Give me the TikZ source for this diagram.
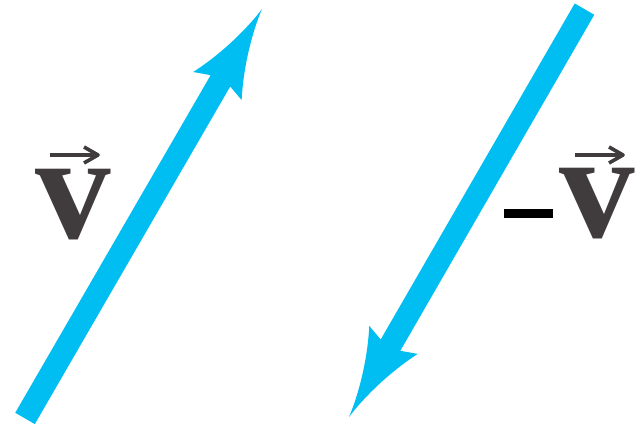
\documentclass[tikz,border=0pt]{standalone}
\usepackage{fontspec}
\newfontfamily\vfont{Liberation Serif}
\definecolor{vcyan}{RGB}{0,190,242}
\definecolor{vgray}{RGB}{64,60,61}
\begin{document}
\begin{tikzpicture}[x=1pt,y=-1pt,
  vecbody/.style={fill=vcyan,draw=none},
  letter/.style={text=vgray,font=\vfont\bfseries\fontsize{151}{151}\selectfont,inner sep=0pt,anchor=base},
  overarrow/.style={draw=vgray,line width=3.6pt,line join=round}]
\useasboundingbox (0,0) rectangle (637,425);
% left arrow (v)
\begin{scope}[shift={(262,9)},x={(-0.501pt,-0.8656pt)},y={(0.8656pt,-0.501pt)}]
  \fill[vecbody] (0,0) .. controls (25,3) and (60,13) .. (89,28) -- (83,11.3) -- (473,11.3)
    -- (473,-11.3) -- (83,-11.3) -- (89,-28) .. controls (60,-13) and (25,-3) .. (0,0) -- cycle;
\end{scope}
% right arrow (-v)
\begin{scope}[shift={(349,417)},x={(0.5pt,0.866pt)},y={(-0.866pt,0.5pt)}]
  \fill[vecbody] (0,0) .. controls (25,3) and (60,13) .. (89,28) -- (83,11.3) -- (471,11.3)
    -- (471,-11.3) -- (83,-11.3) -- (89,-28) .. controls (60,-13) and (25,-3) .. (0,0) -- cycle;
\end{scope}
% labels
\node[letter] (v1) at (73.5,238) {v};
\coordinate (a1s) at (50,155);
\coordinate (a1e) at (98,155);
\draw[overarrow] (a1s) -- (a1e);
\draw[overarrow] (84,147) -- (a1e) -- (84,163);
\fill[black] (504,209) rectangle (553,218);
\node[letter] (v2) at (597,237) {v};
\coordinate (a2s) at (575,155);
\coordinate (a2e) at (623,155);
\draw[overarrow] (a2s) -- (a2e);
\draw[overarrow] (609,147) -- (a2e) -- (609,163);
\end{tikzpicture}
\end{document}
